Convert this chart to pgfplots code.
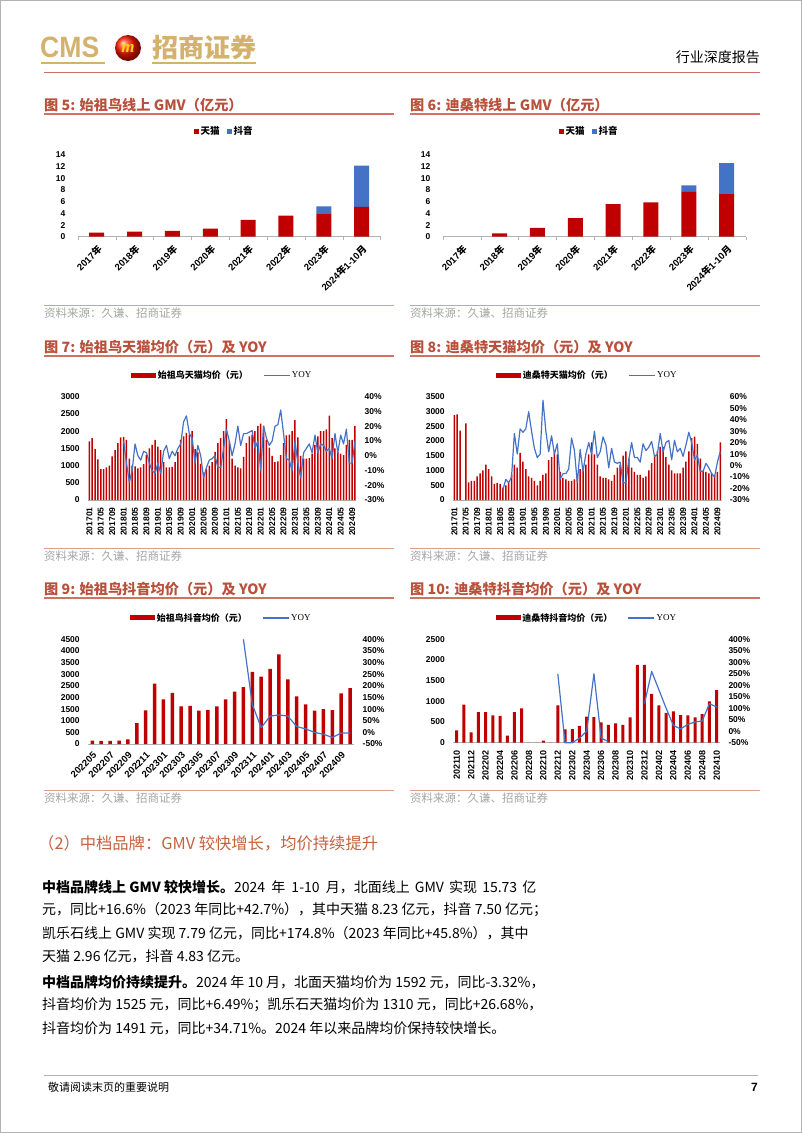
\documentclass[border=0pt]{standalone}
\usepackage{fontspec}
\usepackage{pgfplots}
\usepackage{pgfplotstable}
\pgfplotsset{compat=1.18}
\setmainfont{Noto Sans CJK SC}
\newfontfamily\arial{Liberation Sans}
\newfontfamily\tnr{Liberation Serif}
\definecolor{gold}{RGB}{212,178,110}
\definecolor{tred}{RGB}{185,80,60}
\definecolor{uline}{RGB}{205,115,95}
\definecolor{hred}{RGB}{205,110,100}
\definecolor{bred}{RGB}{192,0,0}
\definecolor{bblue}{RGB}{68,114,196}
\definecolor{srcg}{RGB}{165,165,165}
\definecolor{sec}{RGB}{196,98,62}
\newcommand\tickf{\arial\bfseries\fontsize{8.5}{10}\selectfont}
\newcommand\legf{\bfseries\fontsize{9}{10}\selectfont}
\newcommand\cj[1]{{\rmfamily #1}}

\pgfplotstableread[row sep=\\]{
v y\\
1700 nan\\1800 nan\\1480 nan\\1180 nan\\900 nan\\900 nan\\950 nan\\1000 nan\\1270 nan\\1450 nan\\1650 nan\\1820 nan\\
1830 10\\1750 -5\\1200 -18\\1000 -10\\980 8\\920 0\\950 -3\\1040 3\\1300 2\\1500 -5\\1600 -10\\1750 -12\\
1550 -5\\1450 -12\\1100 3\\950 7\\950 -2\\960 3\\1100 0\\1400 5\\1750 8\\1850 23\\1950 27\\1900 15\\
2000 12\\1480 -5\\1380 7\\1050 0\\800 -15\\900 -8\\1000 -3\\1100 -2\\1400 0\\1650 -8\\1800 -8\\2000 5\\
2350 18\\1700 10\\1200 0\\1000 8\\950 20\\920 7\\1250 15\\1650 15\\1850 16\\1900 17\\2000 5\\2150 10\\
2220 -10\\2150 20\\1750 12\\1520 7\\1280 10\\1100 20\\1120 21\\1300 31\\1650 15\\1880 -2\\1900 -3\\2000 -10\\
2320 10\\1820 -5\\1280 -15\\1200 2\\1200 5\\1220 8\\1350 2\\1600 14\\1850 2\\2000 8\\2000 7\\2050 3\\
2450 5\\1800 -2\\1500 15\\1400 2\\1350 14\\1300 8\\1600 18\\1750 -5\\1750 -5\\2150 10\\
}\tabA

\pgfplotstableread[row sep=\\]{
v y\\
2880 nan\\2900 nan\\2350 nan\\0 nan\\2600 nan\\600 nan\\650 nan\\650 nan\\800 nan\\900 nan\\1000 nan\\1200 nan\\
1050 nan\\800 nan\\550 nan\\570 nan\\550 nan\\420 -21\\500 -12\\600 -15\\850 -10\\1200 28\\1100 10\\1600 32\\
1300 29\\1050 32\\800 47\\750 30\\650 15\\500 7\\650 10\\850 57\\900 30\\1350 12\\1450 26\\1600 10\\
1550 19\\950 -12\\750 -7\\700 -7\\650 -3\\650 24\\700 13\\850 -15\\1050 14\\1000 -5\\1200 10\\1550 20\\
1950 10\\1550 30\\1200 7\\800 12\\750 25\\750 18\\700 -2\\650 15\\850 3\\1100 2\\1200 3\\1500 -15\\
1650 -15\\1400 5\\1100 20\\950 7\\850 7\\850 3\\750 19\\800 13\\1000 16\\1250 21\\1500 8\\1650 10\\
1800 28\\1800 12\\1450 20\\1200 22\\1000 5\\900 22\\900 12\\900 15\\1100 8\\1300 18\\1650 29\\2100 20\\
2150 5\\1900 9\\1400 -5\\1000 -5\\950 2\\900 -2\\900 -7\\850 -10\\950 3\\1950 12\\
}\tabB

\pgfplotstableread[row sep=\\]{
v y\\
150 nan\\130 nan\\130 nan\\150 nan\\200 nan\\900 nan\\1450 nan\\2600 nan\\1920 nan\\2200 nan\\
1620 nan\\1640 nan\\1430 nan\\1470 nan\\1620 nan\\1920 nan\\2250 nan\\2450 400\\3100 120\\2900 20\\
3230 70\\3850 75\\2780 70\\2050 25\\1700 15\\1430 0\\1500 -8\\1460 -22\\2180 -3\\2400 -3\\
}\tabC

\pgfplotstableread[row sep=\\]{
v y\\
300 nan\\920 nan\\250 nan\\740 nan\\740 nan\\660 nan\\650 nan\\170 nan\\740 nan\\830 nan\\
0 nan\\0 nan\\50 nan\\0 nan\\900 250\\320 -50\\330 -50\\410 -30\\630 0\\620 250\\
490 -30\\430 -45\\470 nan\\430 nan\\610 nan\\1880 nan\\1880 120\\1180 260\\900 180\\720 100\\
760 25\\670 10\\660 30\\610 40\\690 45\\1000 120\\1270 105\\
}\tabD

\pgfplotsset{
  every axis/.append style={scale only axis, clip=false,
    /pgf/number format/assume math mode=true},
  leftbar/.style={
    axis x line*=bottom, axis y line*=left,
    x axis line style={draw=gray!60, line width=0.6pt},
    y axis line style={draw=none},
    ytick style={draw=none}, xtick style={draw=none},
    tick label style={font=\tickf, text=black},
    yticklabel style={inner sep=0pt},
    xticklabel style={inner sep=0pt},
    yticklabel shift=8pt, xticklabel shift=3pt,
    legend style={draw=none, fill=none, legend columns=2, at={(0.5,1)}, anchor=south,
      yshift=15pt, font=\legf, inner sep=0pt,
      nodes={inner sep=1.5pt},
      /tikz/every even column/.append style={column sep=14pt}},
    legend image code/.code={\fill[##1] (0pt,-2.5pt) rectangle (25pt,2.5pt);},
  },
  rightline/.style={
    axis x line=none, axis y line*=right,
    y axis line style={draw=none}, ytick style={draw=none},
    tick label style={font=\tickf, text=black},
    yticklabel style={inner sep=0pt}, yticklabel shift=8pt,
  },
  yoy/.style={bblue, line width=1.2pt, unbounded coords=jump, line join=round},
}

\begin{document}
\begin{tikzpicture}[x=1pt,y=1pt]
\path[use as bounding box] (0,0) rectangle (802,-1133);
\draw[gray!60, line width=1pt] (0.5,-0.5) rectangle (801.5,-1132.5);

% ---------- header ----------
\node[anchor=west, text=gold, font=\arial\bfseries\fontsize{28}{28}\selectfont, inner sep=0pt] at (40,-47) {\scalebox{0.95}[1.05]{CMS}};
\shade[ball color=red!80!orange] (128,-48) circle (13);
\node[text=yellow!70!orange, font=\tnr\bfseries\itshape\fontsize{17}{17}\selectfont] at (128,-48) {m};
\node[anchor=west, text=gold, font=\bfseries\fontsize{26}{26}\selectfont, inner sep=0pt] at (152,-48) {招商证券};
\draw[gold, line width=1.3pt] (41,-63) -- (105,-63);
\draw[gold, line width=1.3pt] (152,-63) -- (256,-63);
\node[anchor=east, font=\fontsize{14}{14}\selectfont, inner sep=0pt] at (760,-57) {行业深度报告};
\draw[hred, line width=0.9pt] (44,-72) -- (760,-72);

% ---------- titles ----------
\foreach \xx/\yy/\tt in {44/105/{图 5: 始祖鸟线上 GMV（亿元）}, 410/105/{图 6: 迪桑特线上 GMV（亿元）},
  44/347/{图 7: 始祖鸟天猫均价（元）及 YOY}, 410/347/{图 8: 迪桑特天猫均价（元）及 YOY},
  44/589/{图 9: 始祖鸟抖音均价（元）及 YOY}, 410/589/{图 10: 迪桑特抖音均价（元）及 YOY}}{
  \node[anchor=west, text=tred, font=\bfseries\fontsize{14.2}{15}\selectfont, inner sep=0pt] at (\xx,-\yy) {\tt};
}
\foreach \yy in {114,356,598}{
  \draw[uline, line width=1.2pt] (44,-\yy) -- (394,-\yy);
  \draw[uline, line width=1.2pt] (410,-\yy) -- (760,-\yy);
}
% ---------- sources ----------
\foreach \yy in {305,548,790}{
  \draw[uline!70, line width=0.8pt] (44,-\yy) -- (394,-\yy);
  \draw[uline!70, line width=0.8pt] (410,-\yy) -- (760,-\yy);
  \node[anchor=west, text=srcg, font=\fontsize{11.5}{12}\selectfont, inner sep=0pt] at (44,-\yy-8.5) {资料来源：久谦、招商证券};
  \node[anchor=west, text=srcg, font=\fontsize{11.5}{12}\selectfont, inner sep=0pt] at (410,-\yy-8.5) {资料来源：久谦、招商证券};
}

% ---------- chart 5 ----------
\begin{axis}[leftbar, ybar stacked, bar width=15pt, at={(77.8pt,-236.7pt)}, anchor=south west,
  width=302.8pt, height=81.7pt, xmin=-0.5, xmax=7.5, ymin=0, ymax=14,
  ytick={0,2,...,14}, yticklabels={0,2,4,6,8,10,12,14},
  xtick={0,...,7}, xticklabels={2017\cj{年},2018\cj{年},2019\cj{年},2020\cj{年},2021\cj{年},2022\cj{年},2023\cj{年},2024\cj{年}1-10\cj{月}},
  xticklabel style={rotate=45, anchor=north east, font=\arial\bfseries\fontsize{9.5}{10}\selectfont},
  minor xtick={-0.5,0.5,...,7.5}, minor x tick style={draw=gray!60}, minor tick length=3pt, tick align=outside,
  legend image code/.code={\fill[#1] (0pt,-2.5pt) rectangle (5pt,2.5pt);},
  legend style={xshift=-5pt, yshift=2pt, font=\bfseries\fontsize{9.5}{10}\selectfont, /tikz/every even column/.append style={column sep=6pt}}]
\addplot[fill=bred, draw=none] coordinates {(0,0.7) (1,0.85) (2,1.0) (3,1.4) (4,2.9) (5,3.6) (6,4.0) (7,5.1)};
\addplot[fill=bblue, draw=none] coordinates {(0,0) (1,0) (2,0) (3,0) (4,0) (5,0) (6,1.2) (7,7.1)};
\legend{天猫,抖音}
\end{axis}

% ---------- chart 6 ----------
\begin{axis}[leftbar, ybar stacked, bar width=15pt, at={(442.8pt,-236.7pt)}, anchor=south west,
  width=302.8pt, height=81.7pt, xmin=-0.5, xmax=7.5, ymin=0, ymax=14,
  ytick={0,2,...,14}, yticklabels={0,2,4,6,8,10,12,14},
  xtick={0,...,7}, xticklabels={2017\cj{年},2018\cj{年},2019\cj{年},2020\cj{年},2021\cj{年},2022\cj{年},2023\cj{年},2024\cj{年}1-10\cj{月}},
  xticklabel style={rotate=45, anchor=north east, font=\arial\bfseries\fontsize{9.5}{10}\selectfont},
  minor xtick={-0.5,0.5,...,7.5}, minor x tick style={draw=gray!60}, minor tick length=3pt, tick align=outside,
  legend image code/.code={\fill[#1] (0pt,-2.5pt) rectangle (5pt,2.5pt);},
  legend style={xshift=-5pt, yshift=2pt, font=\bfseries\fontsize{9.5}{10}\selectfont, /tikz/every even column/.append style={column sep=6pt}}]
\addplot[fill=bred, draw=none] coordinates {(0,0) (1,0.55) (2,1.5) (3,3.2) (4,5.6) (5,5.9) (6,7.7) (7,7.3)};
\addplot[fill=bblue, draw=none] coordinates {(0,0) (1,0) (2,0) (3,0) (4,0) (5,0) (6,1.1) (7,5.3)};
\legend{天猫,抖音}
\end{axis}

% ---------- chart 7 ----------
\begin{axis}[ybar, leftbar, bar width=1.5pt, at={(87.9pt,-500pt)}, anchor=south west,
  width=268.5pt, height=103.3pt, xmin=-0.5, xmax=93.5, ymin=0, ymax=3000,
  ytick={0,500,...,3000}, yticklabels={0,500,1000,1500,2000,2500,3000},
  xtick={0,4,...,92}, xticklabels={201701,201705,201709,201801,201805,201809,201901,201905,201909,202001,202005,202009,202101,202105,202109,202201,202205,202209,202301,202305,202309,202401,202405,202409},
  xticklabel style={rotate=90, anchor=east}]
\addplot[fill=bred, draw=none] table[x expr=\coordindex, y=v] {\tabA};
\addlegendentry{始祖鸟天猫均价（元）}
\addlegendimage{legend image code/.code={\draw[bblue, line width=1.2pt] (0pt,0pt) -- (26pt,0pt);}}
\addlegendentry{{\tnr\mdseries YOY}}
\end{axis}
\begin{axis}[rightline, at={(87.9pt,-500pt)}, anchor=south west,
  width=268.5pt, height=103.3pt, xmin=-0.5, xmax=93.5, ymin=-30, ymax=40,
  ytick={-30,-20,...,40}, yticklabels={-30\%,-20\%,-10\%,0\%,10\%,20\%,30\%,40\%}]
\addplot[yoy] table[x expr=\coordindex, y=y] {\tabA};
\end{axis}

% ---------- chart 8 ----------
\begin{axis}[ybar, leftbar, bar width=1.5pt, at={(452.9pt,-500pt)}, anchor=south west,
  width=268.8pt, height=103.3pt, xmin=-0.5, xmax=93.5, ymin=0, ymax=3500,
  ytick={0,500,...,3500}, yticklabels={0,500,1000,1500,2000,2500,3000,3500},
  xtick={0,4,...,92}, xticklabels={201701,201705,201709,201801,201805,201809,201901,201905,201909,202001,202005,202009,202101,202105,202109,202201,202205,202209,202301,202305,202309,202401,202405,202409},
  xticklabel style={rotate=90, anchor=east}]
\addplot[fill=bred, draw=none] table[x expr=\coordindex, y=v] {\tabB};
\addlegendentry{迪桑特天猫均价（元）}
\addlegendimage{legend image code/.code={\draw[bblue, line width=1.2pt] (0pt,0pt) -- (26pt,0pt);}}
\addlegendentry{{\tnr\mdseries YOY}}
\end{axis}
\begin{axis}[rightline, at={(452.9pt,-500pt)}, anchor=south west,
  width=268.8pt, height=103.3pt, xmin=-0.5, xmax=93.5, ymin=-30, ymax=60,
  ytick={-30,-20,...,60}, yticklabels={-30\%,-20\%,-10\%,0\%,10\%,20\%,30\%,40\%,50\%,60\%}]
\addplot[yoy] table[x expr=\coordindex, y=y] {\tabB};
\end{axis}

% ---------- chart 9 ----------
\begin{axis}[ybar, leftbar, bar width=3.5pt, at={(87.9pt,-744pt)}, anchor=south west,
  width=266.6pt, height=104.7pt, xmin=-0.5, xmax=29.5, ymin=0, ymax=4500,
  ytick={0,500,...,4500}, yticklabels={0,500,1000,1500,2000,2500,3000,3500,4000,4500},
  xtick={0,2,...,28}, xticklabels={202205,202207,202209,202211,202301,202303,202305,202307,202309,202311,202401,202403,202405,202407,202409},
  xticklabel style={rotate=45, anchor=north east, font=\arial\bfseries\fontsize{9.5}{10}\selectfont}]
\addplot[fill=bred, draw=none] table[x expr=\coordindex, y=v] {\tabC};
\addlegendentry{始祖鸟抖音均价（元）}
\addlegendimage{legend image code/.code={\draw[bblue, line width=1.2pt] (0pt,0pt) -- (26pt,0pt);}}
\addlegendentry{{\tnr\mdseries YOY}}
\end{axis}
\begin{axis}[rightline, at={(87.9pt,-744pt)}, anchor=south west,
  width=266.6pt, height=104.7pt, xmin=-0.5, xmax=29.5, ymin=-50, ymax=400,
  ytick={-50,0,...,400}, yticklabels={-50\%,0\%,50\%,100\%,150\%,200\%,250\%,300\%,350\%,400\%}]
\addplot[yoy] table[x expr=\coordindex, y=y] {\tabC};
\end{axis}

% ---------- chart 10 ----------
\begin{axis}[ybar, leftbar, bar width=3pt, at={(453.1pt,-742.7pt)}, anchor=south west,
  width=267.2pt, height=103.4pt, xmin=-0.5, xmax=36.5, ymin=0, ymax=2500,
  ytick={0,500,...,2500}, yticklabels={0,500,1000,1500,2000,2500},
  xtick={0,2,...,36}, xticklabels={202110,202112,202202,202204,202206,202208,202210,202212,202302,202304,202306,202308,202310,202312,202402,202404,202406,202408,202410},
  xticklabel style={rotate=90, anchor=east, font=\arial\bfseries\fontsize{9}{10}\selectfont}]
\addplot[fill=bred, draw=none] table[x expr=\coordindex, y=v] {\tabD};
\addlegendentry{迪桑特抖音均价（元）}
\addlegendimage{legend image code/.code={\draw[bblue, line width=1.2pt] (0pt,0pt) -- (26pt,0pt);}}
\addlegendentry{{\tnr\mdseries YOY}}
\end{axis}
\begin{axis}[rightline, at={(453.1pt,-742.7pt)}, anchor=south west,
  width=267.2pt, height=103.4pt, xmin=-0.5, xmax=36.5, ymin=-50, ymax=400,
  ytick={-50,0,...,400}, yticklabels={-50\%,0\%,50\%,100\%,150\%,200\%,250\%,300\%,350\%,400\%}]
\addplot[yoy] table[x expr=\coordindex, y=y] {\tabD};
\end{axis}

% ---------- text ----------
\node[anchor=west, text=sec, font=\fontsize{16.3}{16}\selectfont, inner sep=0pt] at (38,-843) {（2）中档品牌：GMV 较快增长，均价持续提升};
\begin{scope}[every node/.style={anchor=west, inner sep=0pt, font=\fontsize{14}{14}\selectfont}]
\node at (42,-887) {\textbf{中档品牌线上 GMV 较快增长。}2024\hspace{3pt} 年\hspace{3pt} 1-10\hspace{3pt} 月，北面线上\hspace{2pt} GMV\hspace{2pt} 实现\hspace{2pt} 15.73\hspace{2pt} 亿};
\node at (42,-910) {元，同比+16.6\%（2023 年同比+42.7\%），其中天猫 8.23 亿元，抖音 7.50 亿元；};
\node at (42,-933) {凯乐石线上 GMV 实现 7.79 亿元，同比+174.8\%（2023 年同比+45.8\%），其中};
\node at (42,-956) {天猫 2.96 亿元，抖音 4.83 亿元。};
\node at (42,-982) {\textbf{中档品牌均价持续提升。}2024 年 10 月，北面天猫均价为 1592 元，同比-3.32\%，};
\node at (42,-1005) {抖音均价为 1525 元，同比+6.49\%；凯乐石天猫均价为 1310 元，同比+26.68\%，};
\node at (42,-1028) {抖音均价为 1491 元，同比+34.71\%。2024 年以来品牌均价保持较快增长。};
\end{scope}

% ---------- footer ----------
\draw[gray!60, line width=0.8pt] (44,-1075) -- (758,-1075);
\node[anchor=west, inner sep=0pt, font=\fontsize{11}{11}\selectfont] at (48,-1087) {敬请阅读末页的重要说明};
\node[anchor=east, inner sep=0pt, font=\arial\bfseries\fontsize{12}{12}\selectfont] at (758,-1087) {7};
\end{tikzpicture}
\end{document}
